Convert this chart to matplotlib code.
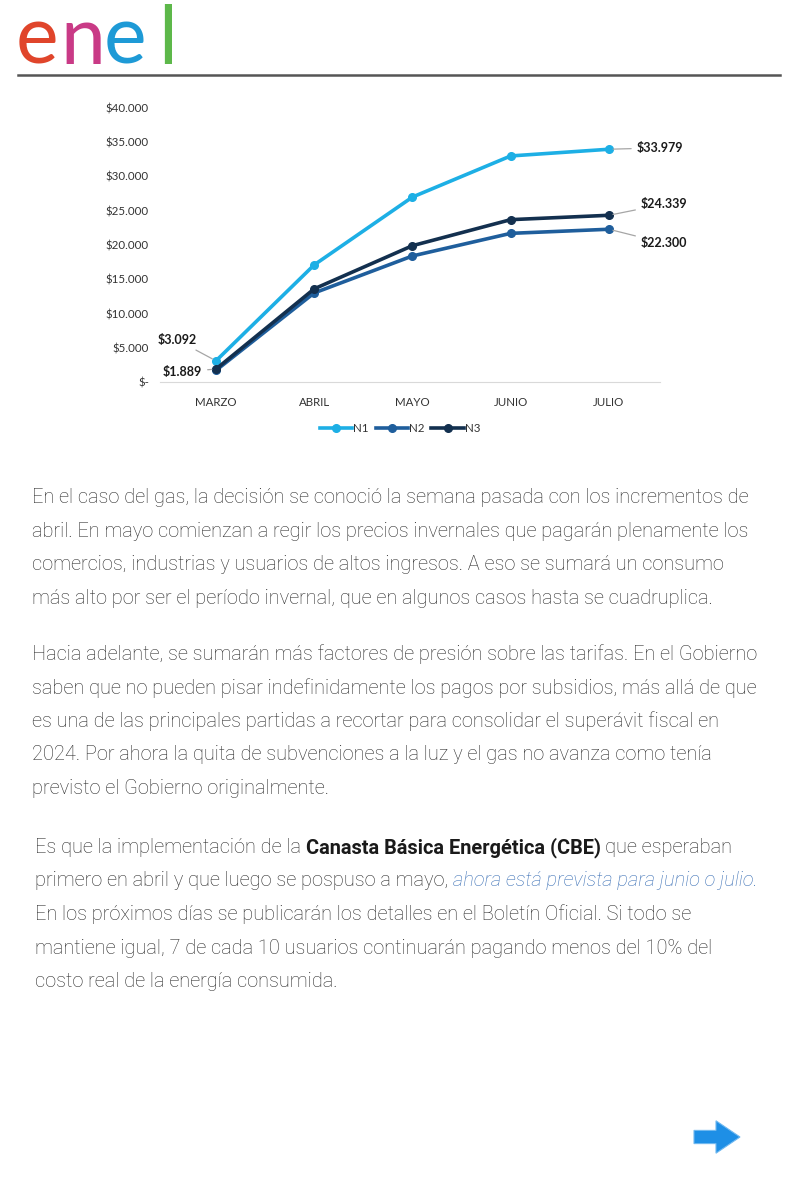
import matplotlib
matplotlib.use("Agg")
import matplotlib.pyplot as plt
from matplotlib.patches import FancyArrow
from matplotlib.lines import Line2D

months = ["MARZO", "ABRIL", "MAYO", "JUNIO", "JULIO"]
n1 = [3092, 17100, 27000, 33000, 33979]
n2 = [1700, 13000, 18400, 21700, 22300]
n3 = [1889, 13600, 19900, 23700, 24339]
series_names = ["N1", "N2", "N3"]
series_colors = ["#1DAFE5", "#1F5E9C", "#13304F"]
yticks = [0, 5000, 10000, 15000, 20000, 25000, 30000, 35000, 40000]
ytick_labels = ["$-", "$5.000", "$10.000", "$15.000", "$20.000", "$25.000",
                "$30.000", "$35.000", "$40.000"]

para1 = [
    "En el caso del gas, la decisión se conoció la semana pasada con los incrementos de",
    "abril. En mayo comienzan a regir los precios invernales que pagarán plenamente los",
    "comercios, industrias y usuarios de altos ingresos. A eso se sumará un consumo",
    "más alto por ser el período invernal, que en algunos casos hasta se cuadruplica.",
]
para2 = [
    "Hacia adelante, se sumarán más factores de presión sobre las tarifas. En el Gobierno",
    "saben que no pueden pisar indefinidamente los pagos por subsidios, más allá de que",
    "es una de las principales partidas a recortar para consolidar el superávit fiscal en",
    "2024. Por ahora la quita de subvenciones a la luz y el gas no avanza como tenía",
    "previsto el Gobierno originalmente.",
]
para3 = [
    [("Es que la implementación de la", "normal"), ("Canasta Básica Energética (CBE)", "bold"),
     ("que esperaban", "normal")],
    [("primero en abril y que luego se pospuso a mayo,", "normal"),
     ("ahora está prevista para junio o julio.", "link")],
    [("En los próximos días se publicarán los detalles en el Boletín Oficial. Si todo se", "normal")],
    [("mantiene igual, 7 de cada 10 usuarios continuarán pagando menos del 10% del", "normal")],
    [("costo real de la energía consumida.", "normal")],
]

W, H = 800, 1200


def fx(px):
    return px / W


def fy(py):
    return 1 - py / H


fig = plt.figure(figsize=(8, 12), dpi=100)
fig.patch.set_facecolor("white")

# logo
logo_letters = ["e", "n", "e", "l"]
logo_colors = ["#E0452B", "#C93A86", "#1E9AD6", "#5DB84A"]
logo_x = [16, 60, 104, 158]
for ch, c, x0 in zip(logo_letters, logo_colors, logo_x):
    fig.text(fx(x0), fy(64), ch, color=c, fontsize=58, family="Lato",
             fontweight="normal", va="baseline", ha="left")
fig.add_artist(Line2D([fx(18), fx(780)], [fy(75), fy(75)], color="#555555", lw=1.8))

# chart
ax = fig.add_axes([fx(160), fy(382), fx(500), (382 - 108) / H])
xs = range(len(months))
for vals, name, c in zip([n1, n2, n3], series_names, series_colors):
    ax.plot(xs, vals, color=c, lw=2.6, marker="o", ms=5.5, label=name)
ax.set_xlim(-0.57, 4.52)
ax.set_ylim(0, 40000)
ax.set_yticks(yticks)
ax.set_yticklabels(ytick_labels)
ax.set_xticks(list(xs))
ax.set_xticklabels(months)
for s in ["top", "right", "left"]:
    ax.spines[s].set_visible(False)
ax.spines["bottom"].set_color("#D9D9D9")
ax.tick_params(length=0, labelsize=8.3, colors="#333333")
ax.tick_params(axis="x", pad=11)
ax.tick_params(axis="y", pad=8)
for lab in ax.get_xticklabels() + ax.get_yticklabels():
    lab.set_family("Lato")

lbl = dict(fontsize=9, fontweight="bold", family="Lato", color="#1a1a1a",
           textcoords="offset points",
           arrowprops=dict(arrowstyle="-", color="#A6A6A6", lw=0.9, shrinkA=2, shrinkB=3))
ax.annotate("$3.092", xy=(0, n1[0]), xytext=(-28, 15), ha="center", va="center", **lbl)
ax.annotate("$1.889", xy=(0, n3[0]), xytext=(-10, -2), ha="right", va="center", **lbl)
ax.annotate("$33.979", xy=(4, n1[4]), xytext=(20, 1), ha="left", va="center", **lbl)
ax.annotate("$24.339", xy=(4, n3[4]), xytext=(23, 8), ha="left", va="center", **lbl)
ax.annotate("$22.300", xy=(4, n2[4]), xytext=(23, -10), ha="left", va="center", **lbl)

leg = ax.legend(loc="center", bbox_to_anchor=(0.48, -0.17), ncol=3, frameon=False,
                fontsize=8.3, handlelength=2.8, columnspacing=0.6, handletextpad=0.1)
for t in leg.get_texts():
    t.set_family("Lato")
    t.set_color("#333333")

# body text
body = dict(fontsize=14.4, family="Roboto", fontweight="light", color="#2b2b2b")
for i, line in enumerate(para1):
    fig.text(fx(32), fy(503 + i * 33.7), line, va="baseline", ha="left", **body)
for i, line in enumerate(para2):
    fig.text(fx(32), fy(660 + i * 33.5), line, va="baseline", ha="left", **body)

# mixed-style paragraph: place pieces one after another on each line
fig.canvas.draw()
renderer = fig.canvas.get_renderer()
for i, pieces in enumerate(para3):
    xpos = 35
    ypos = fy(853 + i * 33.5)
    for txt, style in pieces:
        kw = dict(body)
        if style == "bold":
            kw["fontweight"] = "bold"
            kw["color"] = "#1a1a1a"
        elif style == "link":
            kw["style"] = "italic"
            kw["color"] = "#3A6FB5"
        t = fig.text(fx(xpos), ypos, txt, va="baseline", ha="left", **kw)
        bb = t.get_window_extent(renderer)
        xpos = bb.x1 + 4.5

arr = FancyArrow(fx(694), fy(1137), fx(22), 0, width=0.011, head_width=0.027,
                 head_length=fx(24), length_includes_head=False,
                 color="#1E8FE6", ec="#6FB8F0", lw=0.8, transform=fig.transFigure)
fig.add_artist(arr)

fig.savefig("out.png", dpi=100, facecolor="white")
